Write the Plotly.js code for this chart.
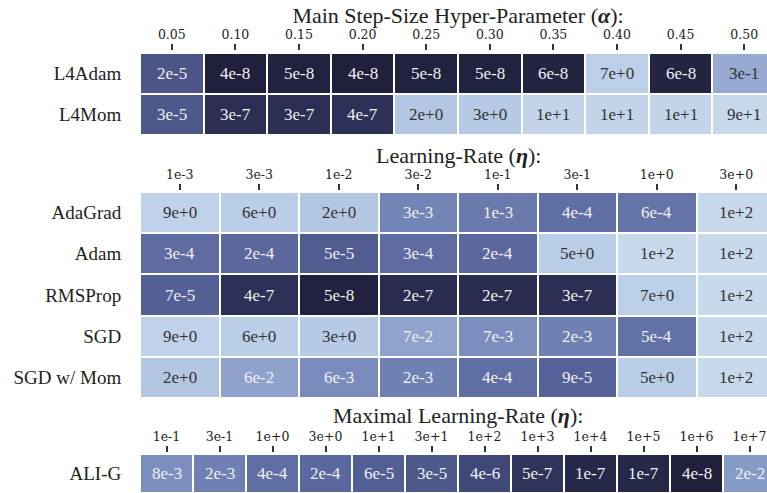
<!DOCTYPE html>
<html>
<head>
<meta charset="utf-8">
<script src="https://cdn.plot.ly/plotly-3.0.1.min.js"></script>
<style>html,body{margin:0;padding:0;background:#fff;}#chart{width:767px;height:493px;}</style>
</head>
<body>
<div id="chart"></div>
<script>
// ---- data ----
const alphaTicks = ['0.05','0.10','0.15','0.20','0.25','0.30','0.35','0.40','0.45','0.50'];
const l4Rows = ['L4Adam','L4Mom'];
const l4Adam = [2e-5,4e-8,5e-8,4e-8,5e-8,5e-8,6e-8,7e+0,6e-8,3e-1];
const l4Mom  = [3e-5,3e-7,3e-7,4e-7,2e+0,3e+0,1e+1,1e+1,1e+1,9e+1];

const lrTicks = ['1e-3','3e-3','1e-2','3e-2','1e-1','3e-1','1e+0','3e+0'];
const lrRows = ['AdaGrad','Adam','RMSProp','SGD','SGD w/ Mom'];
const adaGrad = [9e+0,6e+0,2e+0,3e-3,1e-3,4e-4,6e-4,1e+2];
const adam    = [3e-4,2e-4,5e-5,3e-4,2e-4,5e+0,1e+2,1e+2];
const rmsProp = [7e-5,4e-7,5e-8,2e-7,2e-7,3e-7,7e+0,1e+2];
const sgd     = [9e+0,6e+0,3e+0,7e-2,7e-3,2e-3,5e-4,1e+2];
const sgdMom  = [2e+0,6e-2,6e-3,2e-3,4e-4,9e-5,5e+0,1e+2];

const aligTicks = ['1e-1','3e-1','1e+0','3e+0','1e+1','3e+1','1e+2','1e+3','1e+4','1e+5','1e+6','1e+7'];
const aligRows = ['ALI-G'];
const aliG = [8e-3,2e-3,4e-4,2e-4,6e-5,3e-5,4e-6,5e-7,1e-7,1e-7,4e-8,2e-2];

// ---- colour map on log10(value) ----
const ZMIN = -7.4, ZMAX = 2.0;
const cmapStops = [
  [-7.4,'#20203c'],[-7.0,'#262849'],[-6.5,'#2c2e53'],[-6.3,'#30335a'],
  [-5.4,'#404878'],[-4.6,'#4c5789'],[-4.0,'#56639a'],[-3.5,'#5e6ca1'],
  [-3.0,'#6a7aad'],[-2.5,'#7385b6'],[-2.1,'#7c8fbe'],[-1.7,'#879bc7'],
  [-1.2,'#8ea2cc'],[-0.5,'#97abd2'],[0.3,'#b3c7e3'],[0.85,'#bccfe8'],
  [1.0,'#c2d3ea'],[2.0,'#c9d9ec']
];
const colorscale = cmapStops.map(s => [(s[0]-ZMIN)/(ZMAX-ZMIN), s[1]]);

const W = 767, H = 493, L = 140, FULLW = 636;
const SERIF = 'Liberation Serif';
const TICKF = 'DejaVu Serif';

function fmt(v){ return v.toExponential(0); }

const traces = [];
const annotations = [];
function addHeat(rows, cols, matrix, xa, ya){
  const xs = cols.map((_,i)=>i), ys = rows.map((_,j)=>j);
  traces.push({
    type:'heatmap', x: xs, y: ys,
    z: matrix.map(r=>r.map(v=>Math.log10(v))),
    zmin: ZMIN, zmax: ZMAX, colorscale: colorscale, showscale:false,
    xgap:2, ygap:2, hoverinfo:'skip',
    xaxis: xa, yaxis: ya
  });
  matrix.forEach((r,j)=>r.forEach((v,i)=>{
    annotations.push({
      xref: xa, yref: ya, x: i, y: j, text: fmt(v), showarrow:false,
      font:{family:SERIF, size:17, color: v >= 0.1 ? '#333333' : '#f0f0f0'}
    });
  }));
}
addHeat(l4Rows, alphaTicks, [l4Adam, l4Mom], 'x', 'y');
addHeat(lrRows, lrTicks, [adaGrad, adam, rmsProp, sgd, sgdMom], 'x2', 'y2');
addHeat(aligRows, aligTicks, [aliG], 'x3', 'y3');

function py(p){ return 1 - p/H; }
function xax(cols, posPx){
  const n = cols.length;
  return {
    anchor:'free', position: py(posPx), side:'top', domain:[0,1],
    range:[-0.5, -0.5 + n*(W-L)/FULLW],
    tickvals: cols.map((_,i)=>i), ticktext: cols,
    ticks:'outside', ticklen:6, tickwidth:2, tickcolor:'#333',
    showline:false, showgrid:false, zeroline:false,
    tickfont:{family:TICKF, size:12.5, color:'#222'}, fixedrange:true
  };
}
function yax(rows, topPx, botPx){
  return {
    domain:[Math.max(0,py(botPx)), py(topPx)],
    range:[rows.length-0.5, -0.5],
    tickvals: rows.map((_,i)=>i), ticktext: rows,
    ticks:'outside', ticklen:14, tickcolor:'rgba(0,0,0,0)',
    showline:false, showgrid:false, zeroline:false,
    tickfont:{family:SERIF, size:19, color:'#222'}, fixedrange:true
  };
}
const titleX = (458 - L)/(W - L);
annotations.push({xref:'paper', yref:'paper', x:titleX, y:py(155), xanchor:'center', yanchor:'middle',
  text:'Learning-Rate (<b><i>η</i></b>):', showarrow:false, font:{family:SERIF, size:22, color:'#222'}});
annotations.push({xref:'paper', yref:'paper', x:titleX, y:py(415), xanchor:'center', yanchor:'middle',
  text:'Maximal Learning-Rate (<b><i>η</i></b>):', showarrow:false, font:{family:SERIF, size:22, color:'#222'}});

const layout = {
  width: W, height: H,
  margin:{l:L, r:0, t:0, b:0},
  paper_bgcolor:'#fff', plot_bgcolor:'#fff',
  title:{text:'Main Step-Size Hyper-Parameter (<b><i>α</i></b>):', x:458/W, xanchor:'center',
         y:py(15), yanchor:'middle', font:{family:SERIF, size:22, color:'#222'}},
  xaxis: xax(alphaTicks, 50),
  yaxis: yax(l4Rows, 53, 135),
  xaxis2: xax(lrTicks, 190),
  yaxis2: yax(lrRows, 192, 398),
  xaxis3: xax(aligTicks, 452),
  yaxis3: yax(aligRows, 454, 493),
  annotations: annotations,
  showlegend:false
};
Plotly.newPlot('chart', traces, layout, {displayModeBar:false, staticPlot:true});
</script>
</body>
</html>
